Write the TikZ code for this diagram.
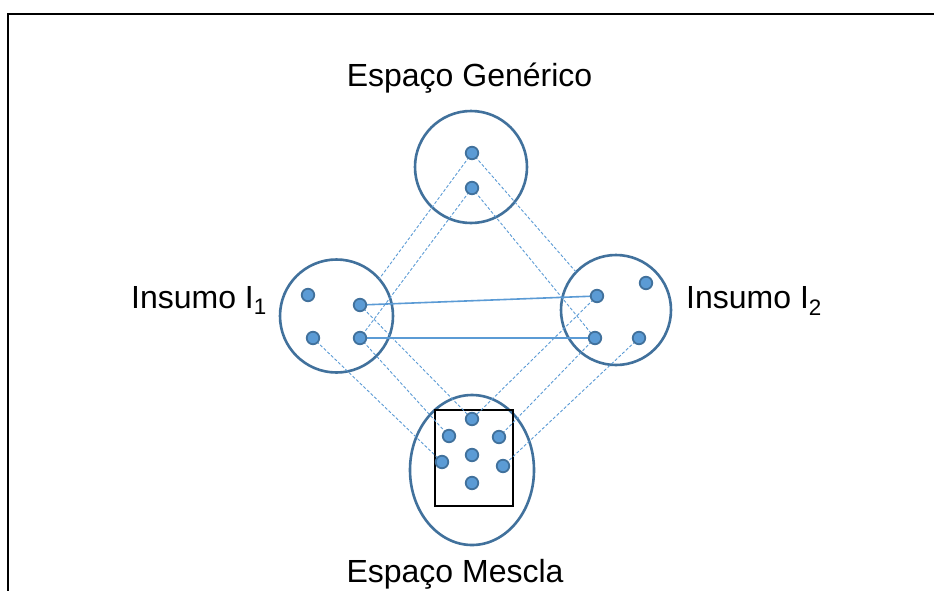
\documentclass[tikz,border=0pt]{standalone}
\usepackage{fontspec}
\setmainfont{Liberation Sans}
\usetikzlibrary{shapes.geometric,calc}
\definecolor{ringblue}{HTML}{41719C}
\definecolor{dotblue}{HTML}{5B9BD5}
\tikzset{
  space/.style={draw=ringblue, line width=2.6pt, circle, inner sep=0pt},
  pt/.style={circle, fill=dotblue, draw=ringblue, line width=1.8pt, minimum size=12.5pt, inner sep=0pt},
  link/.style={draw=dotblue, line width=0.9pt, dash pattern=on 3pt off 2pt},
  match/.style={draw=dotblue, line width=1.6pt},
  label/.style={inner sep=0pt, font=\fontsize{32}{38}\selectfont},
}
\begin{document}
\begin{tikzpicture}[x=1pt,y=-1pt]
\clip (0,0) rectangle (934,590);
\fill[white] (0,0) rectangle (934,590);
% outer frame (runs past the right and lower edges)
\draw[line width=2pt] (8,14) rectangle (980,640);

% the four mental spaces
\node[space, minimum size=112pt] (gen) at (471,167) {};
\node[space, minimum size=113pt] (in1) at (336.5,316) {};
\node[space, minimum size=110pt] (in2) at (616,310) {};
\node[space, ellipse, minimum width=124pt, minimum height=150pt] (mix) at (472,470) {};
\node[draw=black, line width=2.8pt, minimum width=78pt, minimum height=96pt, inner sep=0pt] (box) at (474,458) {};

% element positions
\coordinate (g1) at (472,153);
\coordinate (g2) at (472,188);
\coordinate (a) at (308,295);
\coordinate (b) at (360,305);
\coordinate (c) at (313,338);
\coordinate (d) at (360,338);
\coordinate (e) at (597,296);
\coordinate (f) at (646,283);
\coordinate (h) at (595,338);
\coordinate (j) at (639,338);
\coordinate (m1) at (472,419);
\coordinate (m2) at (449,436);
\coordinate (m3) at (499,437);
\coordinate (m4) at (442,462);
\coordinate (m5) at (472,455);
\coordinate (m6) at (503,466);
\coordinate (m7) at (472,483);

% generic space to inputs
\coordinate (gb) at ($(g1)!0.83!(b)$);
\coordinate (ge) at ($(g1)!0.833!(e)$);
\draw[link] (g1) -- (gb);
\draw[link] (g2) -- (d);
\draw[link] (g1) -- (ge);
\draw[link] (g2) -- (h);

% cross-space mapping
\draw[match] (b) -- (e);
\draw[match] (d) -- (h);

% inputs to blend
\draw[link] (b) -- (m1);
\draw[link] (d) -- (m2);
\draw[link] (c) -- (m4);
\draw[link] (e) -- (m1);
\draw[link] (h) -- (m3);
\draw[link] (j) -- (m6);

% elements
\foreach \p in {g1,g2,a,b,c,d,e,f,h,j,m1,m2,m3,m4,m5,m6,m7}
  \node[pt] (n\p) at (\p) {};

% labels
\node[label, anchor=base] (tgen) at (469.5,86) {Espaço Genérico};
\node[label, anchor=base west] (tin1) at (131,308) {Insumo I\textsubscript{1}};
\node[label, anchor=base west] (tin2) at (686,308) {Insumo I\textsubscript{2}};
\node[label, anchor=base] (tmix) at (455,582) {Espaço Mescla};
\end{tikzpicture}
\end{document}
